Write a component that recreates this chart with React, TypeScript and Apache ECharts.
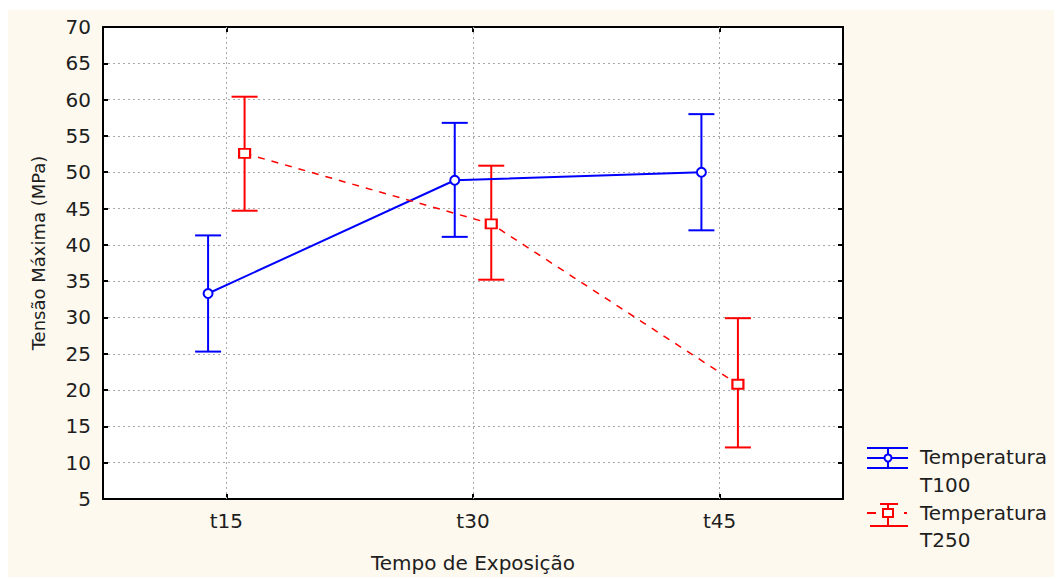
import React, { useEffect, useRef } from "react";
import * as echarts from "echarts";

const categories = ["t15", "t30", "t45"];
const yTicks = { min: 5, max: 70, step: 5 };

const t100Mean = [33.3, 48.9, 50.0];
const t100Low = [25.3, 41.1, 42.0];
const t100High = [41.3, 56.8, 58.0];

const t250Mean = [52.6, 42.9, 20.8];
const t250Low = [44.7, 35.2, 12.1];
const t250High = [60.4, 50.9, 29.9];

const seriesNames = ["Temperatura\nT100", "Temperatura\nT250"];

const FONT = "DejaVu Sans";
const TXT = "#1e1e1e";
const BLUE = "#0000ff";
const RED = "#ff0000";
const OFF = 0.074;
const GRID_LINE = { color: "#a8a8a8", type: [2, 3], width: 1 };

function errorBarSeries(low: number[], high: number[], offset: number, color: string) {
  return {
    type: "custom",
    xAxisIndex: 2,
    yAxisIndex: 0,
    z: 2,
    silent: true,
    data: low.map((l, i) => [i + offset, l, high[i]]),
    renderItem: (params: any, api: any) => {
      const x = api.value(0);
      const top = api.coord([x, api.value(2)]);
      const bot = api.coord([x, api.value(1)]);
      const hw = 13;
      const style = { stroke: color, lineWidth: 2 };
      return {
        type: "group",
        children: [
          { type: "line", shape: { x1: top[0], y1: top[1], x2: bot[0], y2: bot[1] }, style },
          { type: "line", shape: { x1: top[0] - hw, y1: top[1], x2: top[0] + hw, y2: top[1] }, style },
          { type: "line", shape: { x1: bot[0] - hw, y1: bot[1], x2: bot[0] + hw, y2: bot[1] }, style },
        ],
      };
    },
  };
}

export default function App() {
  const ref = useRef<HTMLDivElement>(null);
  useEffect(() => {
    if (!ref.current) return;
    const chart = echarts.init(ref.current, undefined, { renderer: "svg" });
    const axisLine = { show: true, onZero: false, lineStyle: { color: "#000", width: 2 } };
    const tickIn = { show: true, inside: true, length: 5, lineStyle: { color: "#000", width: 2 } };
    const ls = { stroke: BLUE, lineWidth: 2 };
    const rs = { stroke: RED, lineWidth: 2 };
    const option: any = {
      animation: false,
      backgroundColor: "#fdf9ee",
      grid: { left: 95, top: 17, width: 740, height: 472, show: true, backgroundColor: "#ffffff", borderColor: "#000", borderWidth: 0 },
      xAxis: [
        {
          type: "category",
          data: categories,
          position: "bottom",
          axisLine,
          axisTick: { ...tickIn, alignWithLabel: true },
          axisLabel: { fontFamily: FONT, fontSize: 20, color: TXT, margin: 12 },
          splitLine: { show: false },
          name: "Tempo de Exposição",
          nameLocation: "middle",
          nameGap: 54,
          nameTextStyle: { fontFamily: FONT, fontSize: 20, color: TXT },
        },
        {
          type: "category",
          data: categories,
          position: "top",
          axisLine,
          axisTick: { ...tickIn, alignWithLabel: true },
          axisLabel: { show: false },
          splitLine: { show: false },
        },
        { type: "value", min: -0.5, max: 2.5, show: false, axisLine: { show: false, onZero: false } },
      ],
      yAxis: [
        {
          type: "value",
          min: yTicks.min,
          max: yTicks.max,
          interval: yTicks.step,
          position: "left",
          axisLine,
          axisTick: tickIn,
          axisLabel: { fontFamily: FONT, fontSize: 20, color: TXT, margin: 12 },
          splitLine: { show: true, lineStyle: GRID_LINE },
          name: "Tensão Máxima (MPa)",
          nameLocation: "middle",
          nameGap: 56,
          nameTextStyle: { fontFamily: FONT, fontSize: 18, color: TXT, padding: [0, 0, 0, 20] },
        },
        {
          type: "value",
          min: yTicks.min,
          max: yTicks.max,
          interval: yTicks.step,
          position: "right",
          axisLine,
          axisTick: tickIn,
          axisLabel: { show: false },
          splitLine: { show: false },
        },
      ],
      series: [
        errorBarSeries(t100Low, t100High, -OFF, BLUE),
        errorBarSeries(t250Low, t250High, OFF, RED),
        {
          name: seriesNames[0],
          type: "line",
          xAxisIndex: 2,
          yAxisIndex: 0,
          z: 3,
          data: t100Mean.map((v, i) => [i - OFF, v]),
          lineStyle: { color: BLUE, width: 2 },
          symbol: "circle",
          symbolSize: 9,
          itemStyle: { color: "#fff", borderColor: BLUE, borderWidth: 2 },
          markLine: {
            silent: true,
            z: 1,
            symbol: ["none", "none"],
            label: { show: false },
            lineStyle: GRID_LINE,
            data: categories.map((_, i) => ({ xAxis: i })),
          },
        },
        {
          name: seriesNames[1],
          type: "line",
          xAxisIndex: 2,
          yAxisIndex: 0,
          z: 3,
          data: t250Mean.map((v, i) => [i + OFF, v]),
          lineStyle: { color: RED, width: 1.5, type: [7, 7] },
          symbol: "rect",
          symbolSize: [11, 9],
          itemStyle: { color: "#fff", borderColor: RED, borderWidth: 2 },
        },
      ],
      graphic: [
        { type: "line", shape: { x1: 859, y1: 438, x2: 900, y2: 438 }, style: ls },
        { type: "line", shape: { x1: 859, y1: 448, x2: 900, y2: 448 }, style: ls },
        { type: "line", shape: { x1: 859, y1: 458, x2: 900, y2: 458 }, style: ls },
        { type: "line", shape: { x1: 880, y1: 438, x2: 880, y2: 458 }, style: ls },
        { type: "circle", shape: { cx: 880, cy: 448, r: 3.5 }, style: { fill: "#fff", stroke: BLUE, lineWidth: 2 } },
        { type: "text", x: 912, y: 447, style: { text: "Temperatura", fontFamily: FONT, fontSize: 20, fill: TXT, verticalAlign: "middle" } },
        { type: "text", x: 912, y: 475, style: { text: "T100", fontFamily: FONT, fontSize: 20, fill: TXT, verticalAlign: "middle" } },
        { type: "line", shape: { x1: 872, y1: 494, x2: 890, y2: 494 }, style: rs },
        { type: "line", shape: { x1: 862, y1: 516, x2: 900, y2: 516 }, style: rs },
        { type: "line", shape: { x1: 880, y1: 494, x2: 880, y2: 516 }, style: rs },
        { type: "line", shape: { x1: 859, y1: 503, x2: 868, y2: 503 }, style: rs },
        { type: "line", shape: { x1: 896, y1: 503, x2: 899, y2: 503 }, style: rs },
        { type: "rect", shape: { x: 875, y: 499, width: 10, height: 8 }, style: { fill: "#fff", stroke: RED, lineWidth: 2 } },
        { type: "text", x: 912, y: 503, style: { text: "Temperatura", fontFamily: FONT, fontSize: 20, fill: TXT, verticalAlign: "middle" } },
        { type: "text", x: 912, y: 530, style: { text: "T250", fontFamily: FONT, fontSize: 20, fill: TXT, verticalAlign: "middle" } },
      ],
    };
    chart.setOption(option);
    return () => chart.dispose();
  }, []);
  return <div ref={ref} style={{ width: 1054, height: 569, position: "relative", top: 2 }} />;
}
